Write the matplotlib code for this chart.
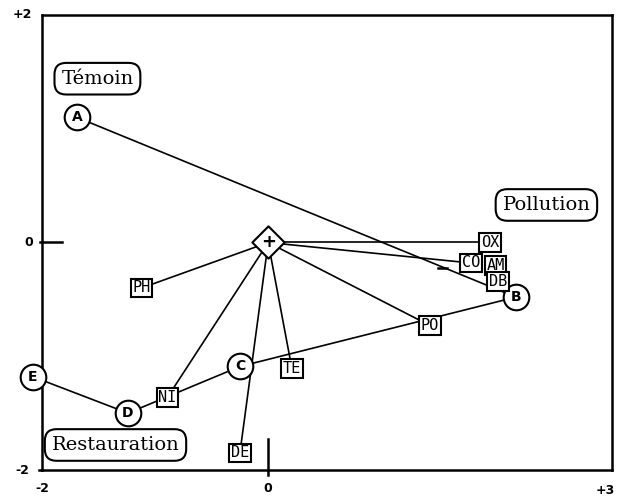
import matplotlib.pyplot as plt

# groupes (cercles) et variables (boites), coordonnees factorielles
grp_names = ['A', 'B', 'C', 'D', 'E']
grp_x = [-1.69, 2.19, -0.25, -1.24, -2.08]
grp_y = [1.10, -0.48, -1.09, -1.50, -1.18]

var_names = ['PH', 'NI', 'TE', 'DE', 'PO', 'OX', 'CO', 'AM', 'DB']
var_x = [-1.12, -0.89, 0.21, -0.25, 1.43, 1.96, 1.79, 2.01, 2.03]
var_y = [-0.40, -1.36, -1.11, -1.85, -0.73, 0.00, -0.18, -0.20, -0.34]

centre = (0.0, 0.0)

# trajectoire des groupes et liaisons au centre
path = ['E', 'D', 'C', 'B']
links_centre = ['PH', 'NI', 'DE', 'TE', 'PO', 'OX', 'CO']

zones = ['Témoin', 'Pollution', 'Restauration']
zone_x = [-1.51, 2.46, -1.35]
zone_y = [1.44, 0.33, -1.78]

pos = dict(zip(grp_names, zip(grp_x, grp_y)))
pos.update(dict(zip(var_names, zip(var_x, var_y))))

fig = plt.figure(figsize=(6.17, 4.98), dpi=100)
ax = fig.add_axes([42/617, 1-470/498, 570/617, 455/498])
ax.set_xlim(-2, 3.04)
ax.set_ylim(-2, 2)

lw = 1.2
ax.plot([pos['A'][0], pos['B'][0]], [pos['A'][1], pos['B'][1]], 'k-', lw=lw, zorder=1)
px = [pos[n][0] for n in path]
py = [pos[n][1] for n in path]
ax.plot(px, py, 'k-', lw=lw, zorder=1, clip_on=False)
for n in links_centre:
    ax.plot([centre[0], pos[n][0]], [centre[1], pos[n][1]], 'k-', lw=lw, zorder=1)
ax.plot([1.50, 1.58], [-0.22, -0.22], 'k-', lw=1.8, zorder=1)

# cercles
ax.scatter(grp_x, grp_y, s=340, facecolor='white', edgecolor='black', linewidth=1.5,
           zorder=3, clip_on=False)
for n, x, y in zip(grp_names, grp_x, grp_y):
    ax.text(x, y, n, ha='center', va='center', fontsize=10, family='DejaVu Sans',
            fontweight='bold', zorder=4, clip_on=False)

# centre
ax.scatter([centre[0]], [centre[1]], marker='D', s=270, facecolor='white',
           edgecolor='black', linewidth=1.5, zorder=3)
ax.text(centre[0], centre[1], '+', ha='center', va='center', fontsize=13,
        fontweight='bold', zorder=4)

# boites variables
for n, x, y in zip(var_names, var_x, var_y):
    ax.text(x, y, n, ha='center', va='center', fontsize=11, family='DejaVu Sans Mono',
            zorder=5, bbox=dict(boxstyle='square,pad=0.12', fc='white', ec='black', lw=1.5))

# zones
for t, x, y in zip(zones, zone_x, zone_y):
    ax.text(x, y, t, ha='center', va='center', fontsize=14, family='DejaVu Serif',
            zorder=5, bbox=dict(boxstyle='round,pad=0.35,rounding_size=0.6',
                                fc='white', ec='black', lw=1.5))

# axes
for s in ax.spines.values():
    s.set_linewidth(1.8)
ax.set_xticks([])
ax.set_yticks([])
ax.plot([-2.02, -1.82], [0, 0], 'k-', lw=1.8, clip_on=False)
ax.plot([0, 0], [-1.73, -2.04], 'k-', lw=1.8, clip_on=False)
ax.plot([-2.03, -2.0], [-2, -2], 'k-', lw=1.8, clip_on=False)

kw = dict(fontsize=9, fontweight='bold', va='center', ha='center', clip_on=False)
ax.text(-2.17, 2.0, '+2', **kw)
ax.text(-2.12, 0.0, '0', **kw)
ax.text(-2.17, -2.0, '-2', **kw)
ax.text(-2.0, -2.16, '-2', **kw)
ax.text(0.0, -2.16, '0', **kw)
ax.text(2.98, -2.18, '+3', **kw)

fig.savefig('out.png', dpi=100)
